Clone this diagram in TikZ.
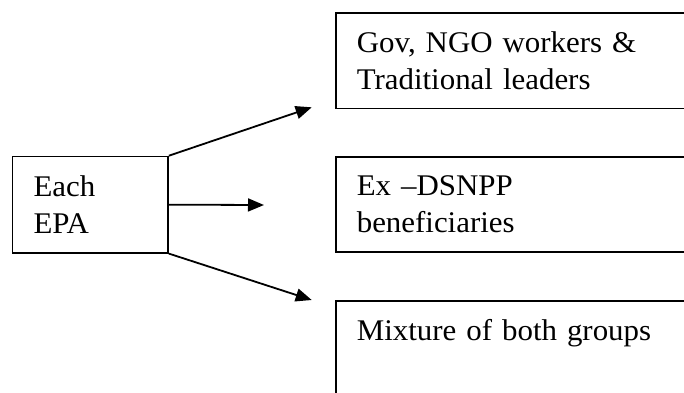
\documentclass[tikz,border=0pt]{standalone}
\usepackage{fontspec}
\setmainfont[FakeStretch=1.03]{Liberation Serif}
\usetikzlibrary{arrows.meta}
\begin{document}
\begin{tikzpicture}[x=1pt,y=-1pt,
  box/.style={draw, line width=1.6pt, anchor=north west, inner xsep=21pt,
    inner ysep=0pt, align=left, font=\fontsize{30}{36.7}\selectfont},
  link/.style={line width=1.8pt, -{Triangle[length=16pt,width=13pt]}}]
\useasboundingbox (0,0) rectangle (684,392);
\clip (0,0) rectangle (684,392);

% source box
\node[box, minimum width=155.6pt, minimum height=96.3pt, text width=113.6pt]
  (epa) at (11.7,155.7) {Each\\EPA};

% target boxes, running past the right edge
\node[box, minimum width=400pt, minimum height=95.6pt, text width=358pt]
  (gov) at (335,12) {Gov, NGO workers \&\\Traditional leaders};
\node[box, minimum width=400pt, minimum height=95pt, text width=358pt]
  (ex) at (335,156) {Ex \textendash DSNPP\\beneficiaries};
\node[box, minimum width=400pt, minimum height=95.6pt, text width=358pt]
  (mix) at (335,300) {Mixture of both groups\\\mbox{}};

% arrow tips stop short of the boxes
\coordinate (t1) at (311.7,107.3);
\coordinate (t2) at (264,205);
\coordinate (t3) at (311.7,300);

\draw[link] (epa.north east) -- (t1);
\draw[link] (epa.east) -- (t2);
\draw[link] (epa.south east) -- (t3);
\end{tikzpicture}
\end{document}
